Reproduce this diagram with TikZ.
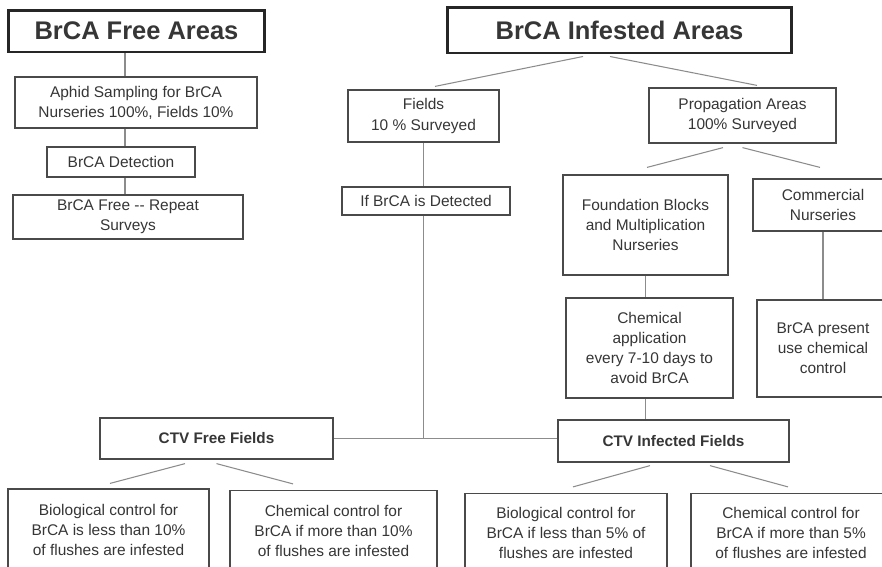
\documentclass[tikz,border=0pt]{standalone}
\usepackage{fontspec}
\setmainfont{Liberation Sans}
\usetikzlibrary{positioning}
\definecolor{inkgray}{HTML}{363636}
\definecolor{boxgray}{HTML}{4A4A4A}
\definecolor{linkgray}{HTML}{8C8C8C}

\begin{document}
\begin{tikzpicture}[x=0.02cm,y=-0.02cm,
    box node/.style={rectangle,draw=boxgray,line width=0.7pt,text=inkgray,align=center,inner sep=1pt,
      font=\fontsize{8.8}{11.4}\selectfont},
    bold node/.style={box node,font=\fontsize{8.7}{11}\selectfont\bfseries},
    title node/.style={rectangle,draw=black!85,line width=1.7pt,text=inkgray,inner sep=1pt,
      font=\fontsize{14.5}{17}\selectfont\bfseries},
    link/.style={draw=linkgray,line width=0.6pt}]
  \clip (0,0) rectangle (882,566);
  \fill[white] (0,0) rectangle (882,566);
  \coordinate (lspine) at (125,0);
  % free areas
  \node[title node,minimum width=5.14cm,minimum height=0.84cm] (free) at (136.5,31) {BrCA Free Areas};
  \node[box node,minimum width=4.84cm,minimum height=1.02cm] (aphid) at (136,102.5) {Aphid Sampling for BrCA\\Nurseries 100\%, Fields 10\%};
  \node[box node,minimum width=2.96cm,minimum height=0.6cm] (det) at (121,162) {BrCA Detection};
  \node[box node,minimum width=4.6cm,minimum height=0.88cm] (repeat) at (128,217) {BrCA Free -{}- Repeat\\Surveys};
  % infested areas
  \node[title node,minimum width=6.9cm,minimum height=0.92cm] (infested) at (619.5,30) {BrCA Infested Areas};
  \node[box node,minimum width=3.02cm,minimum height=1.04cm] (fields) at (423.5,116) {Fields\\10 \% Surveyed};
  \node[box node,minimum width=3.36cm,minimum height=0.56cm] (ifdet) at (426,201) {If BrCA is Detected};
  \node[box node,minimum width=3.74cm,minimum height=1.1cm] (prop) at (742.5,115.5) {Propagation Areas\\100\% Surveyed};
  \node[box node,minimum width=3.3cm,minimum height=2cm] (found) at (645.5,225) {Foundation Blocks\\and Multiplication\\Nurseries};
  \node[box node,minimum width=2.8cm,minimum height=1.04cm] (comm) at (823,205) {Commercial\\Nurseries};
  \node[box node,minimum width=3.34cm,minimum height=2cm] (chem) at (649.5,348) {Chemical\\application\\every 7-10 days to\\avoid BrCA};
  \node[box node,minimum width=2.64cm,minimum height=1.94cm] (pres) at (823,348.5) {BrCA present\\use chemical\\control};
  % fields
  \node[bold node,minimum width=4.66cm,minimum height=0.82cm] (ctvfree) at (216.5,438.5) {CTV Free Fields};
  \node[bold node,minimum width=4.62cm,minimum height=0.84cm] (ctvinf) at (673.5,441) {CTV Infected Fields};
  \node[box node,minimum width=4.02cm,minimum height=1.62cm] (bio10) at (108.5,529.5) {Biological control for\\BrCA is less than 10\%\\of flushes are infested};
  \node[box node,minimum width=4.14cm,minimum height=1.6cm] (chem10) at (333.5,530.5) {Chemical control for\\BrCA if more than 10\%\\of flushes are infested};
  \node[box node,minimum width=4.04cm,minimum height=1.56cm] (bio5) at (566,532.5) {Biological control for\\BrCA if less than 5\% of\\flushes are infested};
  \node[box node,minimum width=4cm,minimum height=1.56cm] (chem5) at (791,532.5) {Chemical control for\\BrCA if more than 5\%\\of flushes are infested};
  % straight links
  \path[link] (free.south -| lspine) edge (aphid.north -| lspine);
  \path[link] (aphid.south -| lspine) edge (det.north -| lspine);
  \path[link] (det.south -| lspine) edge (repeat.north -| lspine);
  \path[link] (fields.south) edge (fields.south |- ifdet.north);
  \path[link] (ifdet.south -| fields.south) edge (fields.south |- ctvfree.east);
  \path[link] (ctvfree.east) edge (ctvfree.east -| ctvinf.west);
  \path[link] (found.south) edge (found.south |- chem.north);
  \path[link] (chem.south -| found.south) edge (found.south |- ctvinf.north);
  \path[link] (comm.south) edge (comm.south |- pres.north);
  % slanted links
  \path[link] ([xshift=-0.73cm,yshift=-0.04cm]infested.south) edge ([xshift=0.23cm,yshift=0.06cm]fields.north);
  \path[link] ([xshift=-0.19cm,yshift=-0.04cm]infested.south) edge ([xshift=0.29cm,yshift=0.04cm]prop.north);
  \path[link] ([xshift=-0.39cm,yshift=-0.08cm]prop.south) edge ([xshift=0.03cm,yshift=0.14cm]found.north);
  \path[link] ([yshift=-0.08cm]prop.south) edge ([xshift=-0.06cm,yshift=0.22cm]comm.north);
  \path[link] ([xshift=-0.63cm,yshift=-0.08cm]ctvfree.south) edge ([xshift=0.03cm,yshift=0.1cm]bio10.north);
  \path[link] ([yshift=-0.08cm]ctvfree.south) edge ([xshift=-0.81cm,yshift=0.12cm]chem10.north);
  \path[link] ([xshift=-0.47cm,yshift=-0.06cm]ctvinf.south) edge ([xshift=0.14cm,yshift=0.12cm]bio5.north);
  \path[link] ([xshift=0.73cm,yshift=-0.06cm]ctvinf.south) edge ([xshift=-0.06cm,yshift=0.12cm]chem5.north);
\end{tikzpicture}
\end{document}
